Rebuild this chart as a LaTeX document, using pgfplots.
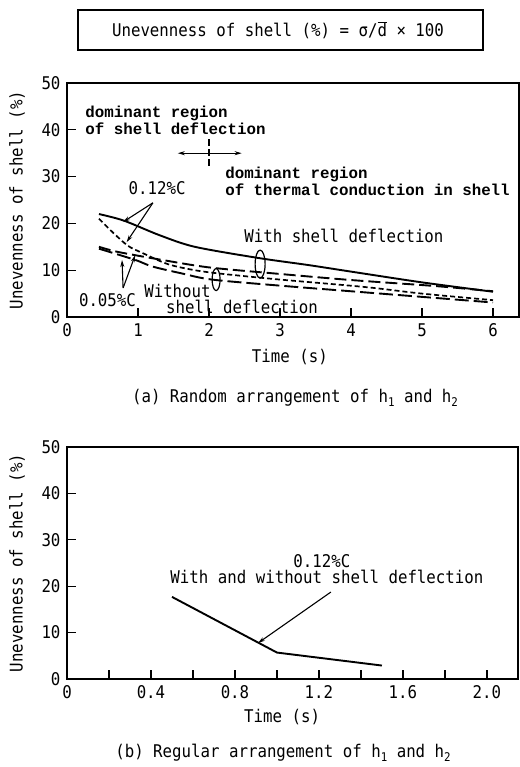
\documentclass[border=0pt]{standalone}
\usepackage{fontspec}
\setmainfont[FakeStretch=0.9]{DejaVu Sans Mono}
\newfontfamily\courfont{Liberation Mono}
\usepackage{pgfplots}
\pgfplotsset{compat=1.18}
\usetikzlibrary{arrows.meta}

\newcommand\lgf{\fontsize{17.5bp}{20bp}\selectfont}
\newcommand\crf{\courfont\bfseries\fontsize{15.8bp}{19bp}\selectfont}
\newcommand\sub[1]{\raisebox{-4bp}{\fontsize{12bp}{12bp}\selectfont #1}}

\tikzset{arr/.style={line width=1.1bp, -{Stealth[length=7bp,width=4bp]}}}

\pgfplotsset{
  shellaxis/.style={
    scale only axis, clip=false,
    axis line style={line width=1.4bp},
    tick style={line width=1.2bp, black},
    tick align=inside,
    major tick length=9bp, minor tick length=9bp,
    xtick pos=left, ytick pos=left,
    ymin=0, ymax=50, ytick={0,10,...,50},
    /pgf/number format/assume math mode=true,
    every tick label/.append style={font=\lgf},
    yticklabel style={xshift=-3bp},
    xticklabel style={yshift=-3bp},
    label style={font=\lgf},
    ylabel={Unevenness of shell (\%)},
    xlabel={Time (s)},
  },
}

\begin{document}
\begin{tikzpicture}
\path[use as bounding box] (0,0) rectangle (520bp,-767bp);

% definition box
\draw[line width=1.2bp] (78bp,-10bp) rectangle (483bp,-50bp);
\node[font=\lgf] at (278bp,-30bp) {Unevenness of shell (\%) = σ/$\overline{\hbox{d}}$ × 100};

% (a) random arrangement
\begin{axis}[shellaxis,
  at={(67bp,-317bp)}, anchor=south west,
  width=452bp, height=234bp,
  xmin=0, xmax=6.366, xtick={0,1,...,6},
  xlabel style={at={(axis description cs:0.493,-0.171)}, anchor=center},
  ylabel style={at={(axis description cs:-0.1106,0.5)}, anchor=center}]

% 0.12%C, with shell deflection
\addplot[line width=1.9bp, smooth] coordinates {
  (0.45,22.0) (0.8,20.6) (1.3,17.5) (1.8,15.0) (2.7,12.6)
  (3.4,11.1) (4.0,9.7) (5.0,7.4) (6.0,5.4)};
% 0.12%C, without shell deflection
\addplot[line width=1.7bp, smooth, dash pattern=on 5bp off 3bp] coordinates {
  (0.45,21.0) (0.65,18.0) (0.86,15.2) (1.06,13.7) (1.42,11.3) (1.8,10.0)
  (2.2,9.2) (3.0,8.0) (4.2,6.4) (5.0,5.0) (6.0,3.6)};
% 0.05%C, with shell deflection
\addplot[line width=1.9bp, smooth, dash pattern=on 12bp off 5bp] coordinates {
  (0.45,15.0) (0.72,13.9) (1.3,12.3) (2.0,10.6) (3.0,9.2) (4.0,7.9) (5.2,6.6) (6.0,5.5)};
% 0.05%C, without shell deflection
\addplot[line width=1.9bp, smooth, dash pattern=on 14bp off 5bp] coordinates {
  (0.45,14.6) (0.96,12.2) (1.2,10.8) (1.62,9.3) (2.04,8.0) (3.0,6.7)
  (4.0,5.5) (5.0,4.3) (6.0,3.1)};

% regions
\node[font=\crf, anchor=base west] at (axis cs:0.21,42.7) {dominant region};
\node[font=\crf, anchor=base west] at (axis cs:0.21,38.9) {of shell deflection};
\node[font=\crf, anchor=base west] at (axis cs:2.18,29.7) {dominant region};
\node[font=\crf, anchor=base west] at (axis cs:2.18,25.9) {of thermal conduction in shell};
\draw[line width=1.2bp, dash pattern=on 7bp off 3bp] (axis cs:2,38) -- (axis cs:2,32);
\draw[line width=1.2bp, {Stealth[length=7bp,width=4bp]}-{Stealth[length=7bp,width=4bp]}]
  (axis cs:1.56,35) -- (axis cs:2.46,35);

% curve labels
\node[font=\lgf, anchor=base] at (axis cs:1.27,26.1) {0.12\%C};
\draw[arr] (axis cs:1.21,24.4) -- (axis cs:0.79,20.3);
\draw[arr] (axis cs:1.21,24.4) -- (axis cs:0.84,16.0);
\node[font=\lgf, anchor=base] at (axis cs:0.57,2.3) {0.05\%C};
\draw[arr] (axis cs:0.79,6.2) -- (axis cs:0.775,12.2);
\draw[arr] (axis cs:0.79,6.2) -- (axis cs:0.96,13.2);
\node[font=\lgf, anchor=base] at (axis cs:3.9,16.0) {With shell deflection};
\draw[line width=1.2bp] (axis cs:2.72,11.3) ellipse [x radius=5bp, y radius=14bp];
\node[font=\lgf, anchor=base] at (axis cs:1.556,4.27) {Without};
\node[font=\lgf, anchor=base] at (axis cs:2.465,0.85) {shell deflection};
\draw[line width=1.2bp] (axis cs:2.1,8.0) ellipse [x radius=4bp, y radius=11bp];
\end{axis}

\node[font=\lgf, anchor=base] at (295bp,-402bp) {(a) Random arrangement of h\sub{1} and h\sub{2}};

% (b) regular arrangement
\begin{axis}[shellaxis,
  at={(67bp,-679bp)}, anchor=south west,
  width=451bp, height=232bp,
  xmin=0, xmax=2.148,
  xtick={0,0.4,0.8,1.2,1.6,2.0},
  xticklabels={0,0.4,0.8,1.2,1.6,2.0},
  minor xtick={0.2,0.6,1.0,1.4,1.8},
  xlabel style={at={(axis description cs:0.477,-0.164)}, anchor=center},
  ylabel style={at={(axis description cs:-0.1109,0.5)}, anchor=center}]
% 0.12%C, with and without shell deflection
\addplot[line width=1.9bp] coordinates {(0.5,17.7) (1.0,5.7) (1.5,2.9)};
\node[font=\lgf, anchor=base] at (axis cs:1.214,24.1) {0.12\%C};
\node[font=\lgf, anchor=base] at (axis cs:1.238,20.5) {With and without shell deflection};
\draw[arr] (axis cs:1.257,18.75) -- (axis cs:0.91,7.76);
\end{axis}

\node[font=\lgf, anchor=base] at (283bp,-757bp) {(b) Regular arrangement of h\sub{1} and h\sub{2}};
\end{tikzpicture}
\end{document}
